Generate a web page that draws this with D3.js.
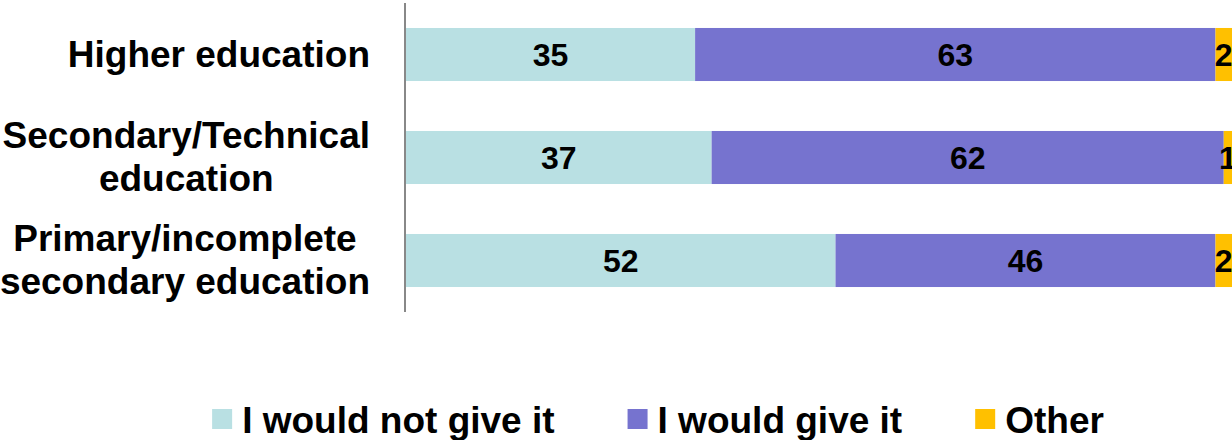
<!DOCTYPE html>
<html>
<head>
<meta charset="utf-8">
<script src="https://cdn.jsdelivr.net/npm/d3@7"></script>
<style>
  body { margin: 0; background: #fff; }
  svg { display: block; font-family: "Liberation Sans", Arial, sans-serif; font-weight: bold; }
</style>
</head>
<body>
<div id="chart"></div>
<script>
const categories = [
    ["Higher education"],
    ["Secondary/Technical", "education"],
    ["Primary/incomplete", "secondary education"]
]
const seriesNames = ["I would not give it", "I would give it", "Other"]
const notGive = [35, 37, 52]
const give = [63, 62, 46]
const other = [2, 1, 2]

const width = 1232,
    height = 440;

const colors = ["#B9E0E3", "#7673CF", "#FFC000"];

const rows = categories.map(function (c, i) {
    return { key: c.join(" "), lines: c, v0: notGive[i], v1: give[i], v2: other[i] }
})

const svg = d3.select("#chart")
    .append("svg")
    .attr("width", width)
    .attr("height", height);

const x = d3.scaleLinear()
    .domain([0, 100])
    .range([406, 1232]);

const y = d3.scaleBand()
    .domain(rows.map(d => d.key))
    .range([3, 312])
    .paddingInner(0.485)
    .paddingOuter(0.2425);

const stack = d3.stack().keys(["v0", "v1", "v2"]);
const stacked = stack(rows);

const layers = svg.selectAll("g.layer")
    .data(stacked)
    .join("g")
    .attr("class", "layer")
    .attr("fill", (d, i) => colors[i]);

layers.selectAll("rect")
    .data(d => d)
    .join("rect")
    .attr("x", d => x(d[0]))
    .attr("y", d => y(d.data.key))
    .attr("width", d => x(d[1]) - x(d[0]))
    .attr("height", y.bandwidth());

// value labels
layers.selectAll("text")
    .data(d => d)
    .join("text")
    .attr("x", d => (x(d[0]) + x(d[1])) / 2)
    .attr("y", d => y(d.data.key) + y.bandwidth() / 2 + 11.5)
    .attr("text-anchor", "middle")
    .attr("fill", "#000")
    .style("font-size", "32px")
    .text(d => d[1] - d[0]);

// axis line
svg.append("line")
    .attr("x1", 405).attr("x2", 405)
    .attr("y1", 3).attr("y2", 312)
    .attr("stroke", "#888")
    .attr("stroke-width", 2);

// category labels: block right-aligned, lines centred inside it
const lineH = 43;
rows.forEach(function (r) {
    const g = svg.append("g");
    const cy = y(r.key) + y.bandwidth() / 2;
    const texts = r.lines.map(function (l, j) {
        return g.append("text")
            .attr("y", cy + 12 - (r.lines.length - 1) * lineH / 2 + j * lineH)
            .attr("text-anchor", "middle")
            .style("font-size", "37px")
            .text(l);
    });
    const maxW = d3.max(texts, t => t.node().getComputedTextLength());
    texts.forEach(t => t.attr("x", 370 - maxW / 2));
});

// legend
const legend = svg.append("g");
const sw = 20, textGap = 30, itemGap = 73;
let lx = 0;
seriesNames.forEach(function (name, i) {
    const item = legend.append("g").attr("transform", `translate(${lx},0)`);
    item.append("rect")
        .attr("x", 0).attr("y", 409)
        .attr("width", sw).attr("height", sw)
        .attr("fill", colors[i]);
    const t = item.append("text")
        .attr("x", textGap).attr("y", 433)
        .style("font-size", "37px")
        .text(name);
    lx += textGap + t.node().getComputedTextLength() + itemGap;
});
const legendW = lx - itemGap;
legend.attr("transform", `translate(${(width - legendW) / 2 + 42},0)`);
</script>
</body>
</html>
